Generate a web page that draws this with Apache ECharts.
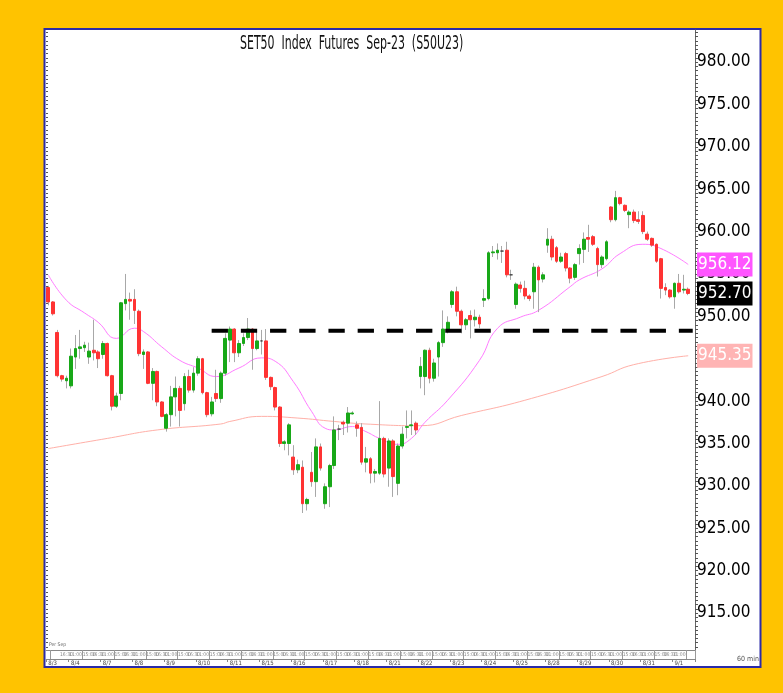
<!DOCTYPE html>
<html style="height: 100%">
<head>
    <meta charset="utf-8">
</head>
<body style="height: 100%; margin: 0">
<div id="container" style="width: 783px; height: 693px"></div>
<script type="text/javascript" src="https://cdn.jsdelivr.net/npm/echarts@6.0.0/dist/echarts.min.js"></script>
<script type="text/javascript">
    var NARROW = "'Liberation Sans Narrow', 'DejaVu Sans Condensed', sans-serif";

    // trading days and 60 min bars per day
    var days = ['8/3', '8/4', '8/7', '8/8', '8/9', '8/10', '8/11', '8/15', '8/16', '8/17', '8/18',
        '8/21', '8/22', '8/23', '8/24', '8/25', '8/28', '8/29', '8/30', '8/31', '9/1'];
    var barsPerDay = [5, 7, 7, 7, 7, 7, 7, 7, 7, 7, 7, 7, 7, 7, 7, 7, 7, 7, 7, 7, 4];
    var hours = ['10:00', '11:00', '12:00', '14:00', '15:00', '16:00', '16:30'];

    var opens = [953.4, 951.7, 948.1, 943.0, 942.4, 941.8, 945.2, 946.2, 946.3, 945.2,
        946.0, 945.8, 945.5, 946.8, 943.0, 939.4, 940.9, 951.5, 952.0, 952.0,
        950.6, 945.5, 945.8, 942.1, 943.5, 939.9, 936.8, 938.4, 940.5, 941.5,
        939.7, 942.9, 941.3, 943.3, 945.0, 941.0, 938.5, 940.9, 940.3, 943.3,
        947.2, 948.5, 945.7, 946.8, 947.5, 948.5, 946.2, 947.1, 947.1, 942.8,
        941.6, 939.3, 935.0, 935.0, 933.4, 931.9, 932.2, 927.9, 931.6, 930.5,
        934.6, 927.9, 929.9, 932.4, 936.7, 937.5, 937.4, 938.5, 937.2, 936.9,
        932.8, 933.2, 931.5, 931.5, 935.6, 932.1, 935.3, 930.3, 934.7, 936.9,
        937.1, 937.4, 942.9, 942.9, 946.0, 942.7, 945.2, 946.9, 948.3, 951.4,
        952.9, 950.6, 949.0, 950.1, 949.6, 949.9, 951.9, 952.1, 957.5, 957.5,
        957.7, 957.8, 954.9, 951.4, 953.7, 953.3, 952.4, 952.9, 955.8, 954.4,
        958.4, 959.1, 958.1, 956.5, 957.4, 955.7, 954.6, 957.4, 957.9, 959.3,
        959.4, 958.0, 956.1, 956.8, 962.9, 961.4, 964.0, 963.1, 962.0, 962.3,
        961.4, 961.9, 959.7, 959.2, 958.5, 956.8, 953.4, 953.1, 952.3, 953.9,
        953.1, 953.2];
    var closes = [951.7, 950.3, 943.0, 942.6, 942.7, 945.3, 946.2, 946.4, 946.6, 945.9,
        945.7, 945.0, 946.8, 943.0, 939.4, 940.6, 951.6, 952.0, 951.8, 950.7,
        945.6, 945.8, 942.1, 943.5, 939.9, 938.2, 938.4, 940.5, 941.5, 938.9,
        942.9, 941.3, 943.3, 945.0, 941.0, 938.4, 939.9, 940.3, 943.3, 947.4,
        948.5, 945.7, 946.8, 947.5, 948.5, 946.2, 947.1, 947.1, 942.8, 941.7,
        939.3, 935.0, 935.2, 937.2, 931.9, 932.5, 927.9, 928.4, 930.5, 934.6,
        932.1, 929.9, 932.4, 936.6, 936.7, 937.3, 938.6, 938.6, 936.8, 932.8,
        933.2, 931.5, 931.7, 935.6, 931.4, 935.3, 931.1, 934.7, 936.1, 937.0,
        937.2, 936.6, 944.1, 946.0, 942.7, 944.5, 946.9, 948.5, 949.3, 952.9,
        950.6, 949.0, 949.6, 949.6, 949.9, 949.1, 952.1, 957.5, 957.6, 957.8,
        957.7, 954.9, 954.9, 953.8, 953.3, 952.4, 952.1, 955.8, 954.3, 954.9,
        959.1, 957.0, 956.5, 957.0, 955.7, 954.5, 956.1, 958.0, 959.1, 959.1,
        958.5, 956.1, 957.0, 958.8, 961.4, 964.0, 963.3, 962.5, 962.3, 961.3,
        961.2, 960.0, 959.1, 958.4, 956.5, 953.3, 953.1, 952.3, 953.9, 952.9,
        953.2, 952.7];
    var lows = [951.3, 950.1, 942.8, 942.3, 941.5, 941.5, 943.8, 945.0, 945.8, 944.4,
        944.8, 943.9, 945.0, 942.9, 938.9, 939.2, 940.1, 950.7, 949.6, 949.1,
        945.3, 943.8, 942.0, 940.1, 939.4, 938.1, 936.4, 937.0, 938.2, 937.0,
        938.9, 941.0, 941.0, 943.0, 940.8, 938.1, 938.2, 939.9, 939.8, 943.0,
        944.6, 944.6, 945.2, 946.5, 947.2, 943.7, 946.0, 945.5, 942.5, 941.3,
        938.9, 934.6, 934.2, 933.6, 931.3, 931.5, 926.8, 927.1, 929.9, 928.7,
        931.8, 927.3, 927.5, 932.0, 935.4, 936.0, 936.3, 938.4, 935.8, 932.5,
        931.6, 930.3, 930.4, 931.3, 931.0, 929.9, 928.7, 928.9, 934.4, 935.6,
        936.0, 936.0, 941.5, 940.7, 942.1, 942.3, 942.9, 946.4, 948.0, 951.0,
        950.0, 948.0, 948.4, 947.4, 948.8, 948.6, 951.1, 951.9, 957.0, 956.7,
        956.3, 954.6, 954.3, 950.9, 952.8, 952.0, 951.8, 950.9, 950.5, 954.0,
        957.5, 956.6, 956.3, 956.3, 955.3, 953.9, 954.3, 956.1, 956.3, 957.6,
        958.3, 954.7, 955.7, 956.6, 961.1, 961.2, 963.1, 962.3, 960.4, 961.0,
        960.9, 959.7, 958.9, 958.2, 956.3, 952.1, 952.5, 952.1, 950.9, 952.7,
        952.7, 952.5];
    var highs = [953.6, 951.8, 948.4, 943.1, 943.0, 946.2, 947.8, 948.4, 947.0, 946.9,
        949.6, 946.0, 947.1, 946.9, 943.1, 941.0, 951.7, 955.0, 952.8, 953.2,
        950.8, 946.1, 945.9, 943.9, 943.6, 940.0, 938.6, 941.8, 942.9, 941.8,
        943.3, 943.7, 944.0, 945.3, 945.1, 941.1, 940.5, 943.7, 943.5, 948.0,
        948.8, 948.6, 947.2, 948.0, 949.8, 948.6, 948.4, 948.4, 948.5, 942.9,
        941.7, 939.4, 935.4, 937.4, 934.8, 933.1, 933.0, 928.6, 934.0, 935.6,
        935.0, 930.3, 932.6, 938.2, 937.2, 937.7, 939.3, 938.8, 937.6, 937.4,
        934.6, 933.4, 932.0, 940.0, 935.8, 935.6, 935.5, 935.0, 937.0, 938.9,
        938.9, 937.6, 945.2, 946.1, 946.3, 945.0, 947.1, 950.7, 950.0, 953.1,
        953.5, 950.8, 949.8, 950.7, 950.8, 950.2, 953.2, 957.7, 958.3, 958.6,
        958.3, 958.8, 955.5, 954.0, 954.1, 954.2, 952.6, 956.3, 956.0, 955.2,
        960.4, 959.5, 958.3, 957.5, 957.6, 955.8, 956.3, 958.5, 959.9, 960.8,
        959.6, 958.2, 957.2, 959.0, 963.0, 964.8, 964.1, 963.2, 962.5, 962.6,
        962.4, 962.4, 960.0, 959.3, 958.6, 956.9, 953.9, 953.2, 954.0, 955.0,
        954.9, 953.4];

    // moving averages (bar number, value)
    var maFastBar = [1, 5, 9, 12, 16, 20, 22, 26, 30, 34, 38, 43, 48, 51, 55, 59, 62, 64, 68, 71,
        74, 78, 81, 84, 89, 96, 100, 105, 109, 116, 118, 123, 127, 132, 136, 142];
    var maFastVal = [954.9, 951.9, 950.4, 949.3, 947.4, 948.6, 948.2, 946.4, 944.8, 943.9,
        942.9, 943.9, 945.1, 944.7, 942.3, 938.8, 936.8, 936.6, 937.0, 936.4,
        935.6, 934.9, 935.6, 937.5, 940.1, 944.8, 948.6, 949.9, 950.7, 953.5,
        954.3, 955.6, 957.4, 958.5, 958.0, 956.12];
    var maSlowBar = [1, 14, 25, 39, 41, 48, 56, 64, 71, 83, 92, 106, 123, 130, 142];
    var maSlowVal = [934.4, 935.6, 936.6, 937.3, 937.6, 938.2, 938.0, 937.6, 937.3, 937.1,
        938.3, 940.1, 942.9, 944.3, 945.35];

    var yLabels = [915, 920, 925, 930, 935, 940, 945, 950, 955, 960, 965, 970, 975, 980];
    var supportLevel = 948.3;
    var supportFromBar = 37;

    // categories
    var cats = [];
    var dayStart = {};
    days.forEach(function (d, k) {
        var n = barsPerDay[k];
        for (var j = 0; j < n; j++) {
            var h = k === 0 ? hours[hours.length - n + j] : hours[j];
            if (j === 0) dayStart[cats.length] = d;
            cats.push(d + ' ' + h);
        }
    });
    cats.push(' ');

    var wickData = opens.map(function (o, i) {
        return [o, closes[i], lows[i], highs[i]];
    });
    var bodyData = opens.map(function (o, i) {
        return [o, closes[i], Math.min(o, closes[i]), Math.max(o, closes[i])];
    });
    var fast = cats.map(function () { return null; });
    maFastBar.forEach(function (b, k) { fast[b - 1] = maFastVal[k]; });
    var slow = cats.map(function () { return null; });
    maSlowBar.forEach(function (b, k) { slow[b - 1] = maSlowVal[k]; });
    var support = cats.map(function (c, i) { return i >= supportFromBar - 1 ? supportLevel : null; });

    var tickVals = [];
    for (var t = 911; t <= 983.5; t += 0.5) tickVals.push(t);

    var yMin = 910.64, yMax = 983.78;

    // coloured price tag at the right axis
    function endTag(value, bg) {
        return {
            symbol: 'none',
            silent: true,
            animation: false,
            zlevel: 1,
            z: 20,
            lineStyle: {color: 'rgba(0,0,0,0)', width: 0},
            emphasis: {disabled: true},
            label: {
                show: true,
                position: 'end',
                distance: 2,
                formatter: function () { return value.toFixed(2); },
                backgroundColor: bg,
                color: '#fff',
                fontFamily: NARROW,
                fontSize: 17,
                padding: [4, 1, 3, 1]
            },
            data: [{yAxis: value}]
        };
    }

    var dom = document.getElementById("container");
    var myChart = echarts.init(dom, null, {renderer: 'canvas'});
    var option = {
        animation: false,
        backgroundColor: '#FFC300',
        grid: {left: 46, right: 88, top: 30, bottom: 43},
        graphic: [
            {
                type: 'rect', z: -100, silent: true,
                shape: {x: 44.5, y: 29, width: 716, height: 638},
                style: {fill: '#fff', stroke: '#2b2ba8', lineWidth: 2}
            },
            {
                type: 'text', x: 240, y: 34, scaleX: 0.61,
                style: {text: 'SET50  Index  Futures  Sep-23  (S50U23)', fontFamily: NARROW, fontSize: 20, fill: '#111'}
            },
            {
                type: 'text', x: 737, y: 656,
                style: {text: '60 min', fontFamily: NARROW, fontSize: 7, fill: '#555'}
            },
            {
                type: 'text', x: 49, y: 642,
                style: {text: 'Per Sep', fontFamily: NARROW, fontSize: 5, fill: '#666'}
            }
        ],
        xAxis: [
            {
                type: 'category',
                data: cats,
                boundaryGap: true,
                position: 'bottom',
                offset: 9,
                axisLine: {lineStyle: {color: '#888', width: 1}},
                axisTick: {
                    show: true, length: 3, lineStyle: {color: '#888'},
                    interval: function (idx) { return dayStart[idx] !== undefined; }
                },
                axisLabel: {
                    interval: function (idx) { return dayStart[idx] !== undefined; },
                    formatter: function (v, idx) { return dayStart[idx] || ''; },
                    fontFamily: NARROW, fontSize: 6, color: '#444', margin: 1, align: 'left'
                },
                splitLine: {show: false}
            },
            {
                type: 'category',
                data: cats,
                boundaryGap: true,
                position: 'bottom',
                offset: 0,
                axisLine: {lineStyle: {color: '#888', width: 1}},
                axisTick: {
                    show: true, length: 9, lineStyle: {color: '#999'},
                    interval: function (idx) { return idx % 7 === 1; }
                },
                axisLabel: {
                    interval: function (idx) { return idx % 7 === 2 || idx % 7 === 4 || idx % 7 === 6; },
                    formatter: function (v) { return v.split(' ')[1] || ''; },
                    fontFamily: NARROW, fontSize: 5, color: '#888', margin: 2
                },
                splitLine: {show: false}
            }
        ],
        yAxis: [
            {
                type: 'value',
                position: 'right',
                min: yMin,
                max: yMax,
                scale: true,
                axisLine: {show: true, lineStyle: {color: '#666'}},
                axisTick: {show: true, customValues: tickVals, length: 3, lineStyle: {color: '#555'}},
                axisLabel: {
                    customValues: yLabels,
                    formatter: function (v) { return v.toFixed(2); },
                    fontFamily: NARROW, fontSize: 17, color: '#000', margin: 2
                },
                splitLine: {show: false}
            },
            {
                type: 'value',
                position: 'left',
                min: yMin,
                max: yMax,
                scale: true,
                axisLine: {show: false},
                axisTick: {show: true, inside: true, customValues: tickVals, length: 2, lineStyle: {color: '#555'}},
                axisLabel: {show: false},
                splitLine: {show: false}
            }
        ],
        series: [
            {
                name: 'slow',
                type: 'line',
                data: slow,
                connectNulls: true,
                smooth: true,
                showSymbol: false,
                z: 1,
                lineStyle: {color: '#FFB0A8', width: 1},
                markLine: endTag(maSlowVal[maSlowVal.length - 1], '#FFB4B4')
            },
            {
                name: 'fast',
                type: 'line',
                data: fast,
                connectNulls: true,
                smooth: true,
                showSymbol: false,
                z: 1,
                lineStyle: {color: '#FF7CFF', width: 1},
                markLine: endTag(maFastVal[maFastVal.length - 1], '#FF55FF')
            },
            {
                name: 'wick',
                type: 'candlestick',
                data: wickData,
                barWidth: 1,
                z: 2,
                itemStyle: {
                    color: '#A8A8A8', color0: '#A8A8A8',
                    borderColor: '#A8A8A8', borderColor0: '#A8A8A8', borderColorDoji: '#A8A8A8',
                    borderWidth: 1
                }
            },
            {
                name: 'body',
                type: 'candlestick',
                data: bodyData,
                barWidth: 3.2,
                z: 3,
                itemStyle: {
                    color: '#18A818', color0: '#FF3333',
                    borderColor: '#18A818', borderColor0: '#FF3333', borderColorDoji: '#444',
                    borderWidth: 1
                },
                markLine: endTag(closes[closes.length - 1], '#000')
            },
            {
                name: 'support',
                type: 'line',
                data: support,
                showSymbol: false,
                z: 4,
                lineStyle: {color: '#000', width: 4, type: [16.3, 12.9]}
            }
        ]
    };
    if (option && typeof option === "object") {
        myChart.setOption(option, true);
    }
</script>
</body>
</html>
